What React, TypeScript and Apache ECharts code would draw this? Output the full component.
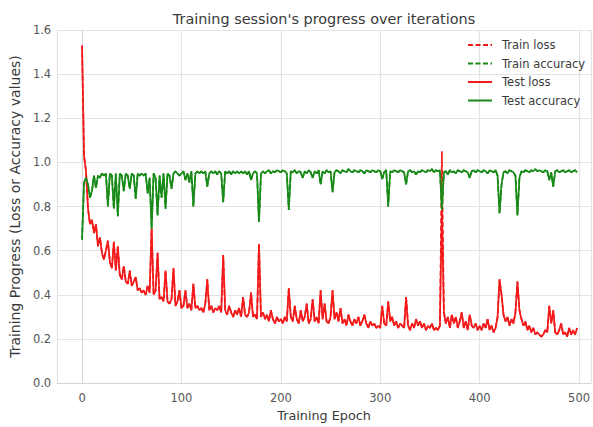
import React, { useEffect, useRef } from "react";
import * as echarts from "echarts";

// epochs sampled every 2 epochs: 0, 2, ..., 498
const epochs: number[] = Array.from({ length: 250 }, (_, i) => i * 2);

const testLoss: number[] = [
  1.53, 1.03, 0.96, 0.79, 0.72, 0.74, 0.68, 0.72, 0.62, 0.66,
  0.59, 0.56, 0.60, 0.645, 0.55, 0.52, 0.64, 0.51, 0.62, 0.49,
  0.47, 0.53, 0.46, 0.45, 0.51, 0.44, 0.46, 0.48, 0.42, 0.43,
  0.41, 0.42, 0.40, 0.44, 0.41, 0.70, 0.40, 0.42, 0.59, 0.38,
  0.39, 0.37, 0.51, 0.37, 0.36, 0.38, 0.52, 0.35, 0.37, 0.42,
  0.34, 0.35, 0.42, 0.34, 0.36, 0.33, 0.45, 0.34, 0.35, 0.33,
  0.34, 0.32, 0.36, 0.47, 0.33, 0.35, 0.32, 0.34, 0.33, 0.35,
  0.32, 0.58, 0.33, 0.31, 0.35, 0.32, 0.30, 0.33, 0.31, 0.34,
  0.30, 0.39, 0.31, 0.30, 0.32, 0.41, 0.30, 0.31, 0.29, 0.63,
  0.30, 0.32, 0.29, 0.31, 0.28, 0.33, 0.29, 0.27, 0.30, 0.28,
  0.29, 0.27, 0.30, 0.28, 0.43, 0.30, 0.28, 0.35, 0.29, 0.27,
  0.33, 0.28, 0.30, 0.36, 0.27, 0.29, 0.38, 0.28, 0.30, 0.27,
  0.42, 0.29, 0.36, 0.28, 0.27, 0.30, 0.42, 0.29, 0.32, 0.28,
  0.34, 0.27, 0.29, 0.26, 0.31, 0.28, 0.26, 0.29, 0.27, 0.30,
  0.26, 0.28, 0.31, 0.27, 0.25, 0.28, 0.26, 0.27, 0.25, 0.26,
  0.25, 0.35, 0.27, 0.26, 0.37, 0.28, 0.30, 0.26, 0.28, 0.25,
  0.27, 0.26, 0.25, 0.39, 0.26, 0.24, 0.27, 0.25, 0.29, 0.26,
  0.28, 0.25, 0.27, 0.24, 0.26, 0.25, 0.27, 0.24, 0.25, 0.24,
  0.26, 0.80, 0.32, 0.27, 0.30, 0.25, 0.31, 0.27, 0.30, 0.25,
  0.28, 0.32, 0.25, 0.28, 0.24, 0.31, 0.26, 0.25, 0.27, 0.24,
  0.26, 0.24, 0.27, 0.25, 0.29, 0.24, 0.26, 0.23, 0.25, 0.30,
  0.47, 0.40, 0.31, 0.28, 0.30, 0.26, 0.29, 0.27, 0.32, 0.46,
  0.33, 0.29, 0.26, 0.28, 0.24, 0.26, 0.23, 0.25, 0.22, 0.23,
  0.22, 0.21, 0.22, 0.24, 0.23, 0.35, 0.27, 0.33, 0.23, 0.22,
  0.24, 0.27, 0.22, 0.23, 0.21, 0.25, 0.22, 0.24, 0.22, 0.25,
];

const trainLoss: number[] = [
  1.53, 1.03, 0.96, 0.79, 0.72, 0.74, 0.68, 0.72, 0.62, 0.66,
  0.59, 0.56, 0.60, 0.645, 0.55, 0.52, 0.64, 0.51, 0.62, 0.49,
  0.47, 0.53, 0.46, 0.45, 0.51, 0.44, 0.46, 0.48, 0.42, 0.43,
  0.41, 0.42, 0.40, 0.44, 0.41, 0.70, 0.40, 0.42, 0.59, 0.38,
  0.39, 0.37, 0.51, 0.37, 0.36, 0.38, 0.52, 0.35, 0.37, 0.42,
  0.34, 0.35, 0.42, 0.34, 0.36, 0.33, 0.45, 0.34, 0.35, 0.33,
  0.34, 0.32, 0.36, 0.47, 0.33, 0.35, 0.32, 0.34, 0.33, 0.35,
  0.32, 0.58, 0.33, 0.31, 0.35, 0.32, 0.30, 0.33, 0.31, 0.34,
  0.30, 0.39, 0.31, 0.30, 0.32, 0.41, 0.30, 0.31, 0.29, 0.63,
  0.30, 0.32, 0.29, 0.31, 0.28, 0.33, 0.29, 0.27, 0.30, 0.28,
  0.29, 0.27, 0.30, 0.28, 0.43, 0.30, 0.28, 0.35, 0.29, 0.27,
  0.33, 0.28, 0.30, 0.36, 0.27, 0.29, 0.38, 0.28, 0.30, 0.27,
  0.42, 0.29, 0.36, 0.28, 0.27, 0.30, 0.42, 0.29, 0.32, 0.28,
  0.34, 0.27, 0.29, 0.26, 0.31, 0.28, 0.26, 0.29, 0.27, 0.30,
  0.26, 0.28, 0.31, 0.27, 0.25, 0.28, 0.26, 0.27, 0.25, 0.26,
  0.25, 0.35, 0.27, 0.26, 0.37, 0.28, 0.30, 0.26, 0.28, 0.25,
  0.27, 0.26, 0.25, 0.39, 0.26, 0.24, 0.27, 0.25, 0.29, 0.26,
  0.28, 0.25, 0.27, 0.24, 0.26, 0.25, 0.27, 0.24, 0.25, 0.24,
  0.26, 1.05, 0.32, 0.27, 0.30, 0.25, 0.31, 0.27, 0.30, 0.25,
  0.28, 0.32, 0.25, 0.28, 0.24, 0.31, 0.26, 0.25, 0.27, 0.24,
  0.26, 0.24, 0.27, 0.25, 0.29, 0.24, 0.26, 0.23, 0.25, 0.30,
  0.47, 0.40, 0.31, 0.28, 0.30, 0.26, 0.29, 0.27, 0.32, 0.46,
  0.33, 0.29, 0.26, 0.28, 0.24, 0.26, 0.23, 0.25, 0.22, 0.23,
  0.22, 0.21, 0.22, 0.24, 0.23, 0.35, 0.27, 0.33, 0.23, 0.22,
  0.24, 0.27, 0.22, 0.23, 0.21, 0.25, 0.22, 0.24, 0.22, 0.25,
];

const testAccuracy: number[] = [
  0.65, 0.91, 0.93, 0.90, 0.84, 0.87, 0.94, 0.885, 0.94, 0.93,
  0.95, 0.94, 0.95, 0.80, 0.95, 0.94, 0.79, 0.95, 0.756, 0.95,
  0.94, 0.87, 0.95, 0.94, 0.88, 0.95, 0.94, 0.836, 0.95, 0.94,
  0.95, 0.94, 0.95, 0.86, 0.93, 0.70, 0.95, 0.93, 0.76, 0.94,
  0.84, 0.95, 0.79, 0.95, 0.94, 0.88, 0.95, 0.96, 0.95, 0.94,
  0.95, 0.96, 0.92, 0.95, 0.91, 0.96, 0.80, 0.95, 0.96, 0.95,
  0.96, 0.95, 0.96, 0.89, 0.95, 0.96, 0.95, 0.96, 0.945, 0.96,
  0.95, 0.82, 0.96, 0.95, 0.96, 0.945, 0.96, 0.95, 0.96, 0.95,
  0.96, 0.95, 0.96, 0.945, 0.96, 0.92, 0.95, 0.96, 0.95, 0.73,
  0.95, 0.96, 0.95, 0.96, 0.965, 0.95, 0.96, 0.955, 0.965, 0.96,
  0.955, 0.965, 0.96, 0.95, 0.785, 0.96, 0.955, 0.965, 0.95, 0.96,
  0.955, 0.93, 0.96, 0.95, 0.965, 0.955, 0.93, 0.96, 0.95, 0.965,
  0.90, 0.96, 0.95, 0.965, 0.955, 0.96, 0.865, 0.955, 0.965, 0.96,
  0.95, 0.965, 0.96, 0.955, 0.97, 0.96, 0.955, 0.965, 0.96, 0.955,
  0.965, 0.96, 0.95, 0.965, 0.96, 0.955, 0.965, 0.96, 0.955, 0.965,
  0.96, 0.925, 0.955, 0.965, 0.80, 0.96, 0.955, 0.965, 0.96, 0.955,
  0.965, 0.96, 0.955, 0.90, 0.96, 0.965, 0.955, 0.96, 0.945, 0.96,
  0.955, 0.965, 0.96, 0.955, 0.965, 0.96, 0.97, 0.955, 0.965, 0.96,
  0.965, 0.785, 0.955, 0.96, 0.945, 0.965, 0.955, 0.96, 0.95, 0.965,
  0.96, 0.955, 0.965, 0.96, 0.955, 0.93, 0.96, 0.965, 0.955, 0.965,
  0.96, 0.955, 0.965, 0.96, 0.95, 0.965, 0.96, 0.955, 0.965, 0.94,
  0.77, 0.90, 0.955, 0.96, 0.95, 0.965, 0.96, 0.955, 0.94, 0.76,
  0.93, 0.96, 0.955, 0.965, 0.96, 0.955, 0.965, 0.96, 0.97, 0.96,
  0.965, 0.96, 0.955, 0.965, 0.96, 0.92, 0.955, 0.89, 0.96, 0.965,
  0.955, 0.96, 0.965, 0.955, 0.96, 0.965, 0.955, 0.96, 0.965, 0.955,
];

const trainAccuracy: number[] = [
  0.65, 0.91, 0.93, 0.90, 0.84, 0.87, 0.94, 0.885, 0.94, 0.93,
  0.95, 0.94, 0.95, 0.80, 0.95, 0.94, 0.79, 0.95, 0.756, 0.95,
  0.94, 0.87, 0.95, 0.94, 0.88, 0.95, 0.94, 0.836, 0.95, 0.94,
  0.95, 0.94, 0.95, 0.86, 0.93, 0.70, 0.95, 0.93, 0.76, 0.94,
  0.84, 0.95, 0.79, 0.95, 0.94, 0.88, 0.95, 0.96, 0.95, 0.94,
  0.95, 0.96, 0.92, 0.95, 0.91, 0.96, 0.80, 0.95, 0.96, 0.95,
  0.96, 0.95, 0.96, 0.89, 0.95, 0.96, 0.95, 0.96, 0.945, 0.96,
  0.95, 0.82, 0.96, 0.95, 0.96, 0.945, 0.96, 0.95, 0.96, 0.95,
  0.96, 0.95, 0.96, 0.945, 0.96, 0.92, 0.95, 0.96, 0.95, 0.73,
  0.95, 0.96, 0.95, 0.96, 0.965, 0.95, 0.96, 0.955, 0.965, 0.96,
  0.955, 0.965, 0.96, 0.95, 0.785, 0.96, 0.955, 0.965, 0.95, 0.96,
  0.955, 0.93, 0.96, 0.95, 0.965, 0.955, 0.93, 0.96, 0.95, 0.965,
  0.90, 0.96, 0.95, 0.965, 0.955, 0.96, 0.865, 0.955, 0.965, 0.96,
  0.95, 0.965, 0.96, 0.955, 0.97, 0.96, 0.955, 0.965, 0.96, 0.955,
  0.965, 0.96, 0.95, 0.965, 0.96, 0.955, 0.965, 0.96, 0.955, 0.965,
  0.96, 0.925, 0.955, 0.965, 0.80, 0.96, 0.955, 0.965, 0.96, 0.955,
  0.965, 0.96, 0.955, 0.90, 0.96, 0.965, 0.955, 0.96, 0.945, 0.96,
  0.955, 0.965, 0.96, 0.955, 0.965, 0.96, 0.97, 0.955, 0.965, 0.96,
  0.965, 0.785, 0.955, 0.96, 0.945, 0.965, 0.955, 0.96, 0.95, 0.965,
  0.96, 0.955, 0.965, 0.96, 0.955, 0.93, 0.96, 0.965, 0.955, 0.965,
  0.96, 0.955, 0.965, 0.96, 0.95, 0.965, 0.96, 0.955, 0.965, 0.94,
  0.77, 0.90, 0.955, 0.96, 0.95, 0.965, 0.96, 0.955, 0.94, 0.76,
  0.93, 0.96, 0.955, 0.965, 0.96, 0.955, 0.965, 0.96, 0.97, 0.96,
  0.965, 0.96, 0.955, 0.965, 0.96, 0.92, 0.955, 0.89, 0.96, 0.965,
  0.955, 0.96, 0.965, 0.955, 0.96, 0.965, 0.955, 0.96, 0.965, 0.955,
];

const seriesNames = ["Train loss", "Train accuracy", "Test loss", "Test accuracy"];

const FONT = "DejaVu Sans";
const RED = "#f21a1a";
const GREEN = "#188a18";

function pairs(values: number[]): [number, number][] {
  return epochs.map((e, i) => [e, values[i]]);
}

export default function App() {
  const ref = useRef<HTMLDivElement>(null);

  useEffect(() => {
    document.body.style.margin = "0";
    if (!ref.current) return;
    const chart = echarts.init(ref.current, undefined, { renderer: "svg" });

    const line = (name: string, values: number[], color: string, dashed: boolean, z: number) => ({
      name,
      type: "line",
      data: pairs(values),
      showSymbol: false,
      symbol: "none",
      z,
      lineStyle: { color, width: 1.7, type: dashed ? [5, 2.5] : "solid" },
      itemStyle: { color },
    });

    chart.setOption({
      animation: false,
      backgroundColor: "#ffffff",
      title: {
        text: "Training session's progress over iterations",
        left: 324,
        top: 12,
        textAlign: "center",
        padding: 0,
        textStyle: { fontFamily: FONT, fontSize: 14.4, fontWeight: "normal", color: "#3a3a3a" },
      },
      legend: {
        orient: "vertical",
        left: 467,
        top: 38,
        itemWidth: 24,
        itemHeight: 10,
        itemGap: 4.5,
        padding: 0,
        data: seriesNames,
        itemStyle: { opacity: 0, borderWidth: 0, color: "transparent" },
        textStyle: { fontFamily: FONT, fontSize: 11.5, color: "#3a3a3a", lineHeight: 14, padding: [0, 0, 0, 5] },
      },
      grid: { left: 55, right: 0, top: 30, bottom: 34, containLabel: false },
      xAxis: {
        type: "value",
        min: -25,
        max: 512,
        splitNumber: 5,
        name: "Training Epoch",
        nameLocation: "middle",
        nameGap: 25,
        nameTextStyle: { fontFamily: FONT, fontSize: 12.8, color: "#3a3a3a" },
        axisLine: { show: true, lineStyle: { color: "#d6d6d6", width: 1 } },
        axisTick: { show: false },
        axisLabel: {
          fontFamily: FONT,
          fontSize: 11.5,
          color: "#555555",
          margin: 9,
          showMinLabel: false,
          showMaxLabel: false,
          formatter: (v: number) => (v % 100 === 0 ? String(v) : ""),
        },
        splitLine: { show: true, lineStyle: { color: "#e3e3e3", width: 1.2 } },
      },
      yAxis: {
        type: "value",
        min: 0,
        max: 1.6,
        interval: 0.2,
        name: "Training Progress (Loss or Accuracy values)",
        nameLocation: "middle",
        nameGap: 34,
        nameTextStyle: { fontFamily: FONT, fontSize: 14, color: "#3a3a3a" },
        axisLine: { show: true, lineStyle: { color: "#d6d6d6", width: 1 } },
        axisTick: { show: false },
        axisLabel: {
          fontFamily: FONT,
          fontSize: 11.5,
          color: "#555555",
          margin: 6,
          formatter: (v: number) => v.toFixed(1),
        },
        splitLine: { show: true, lineStyle: { color: "#e3e3e3", width: 1.2 } },
      },
      series: [
        line(seriesNames[0], trainLoss, RED, true, 1),
        line(seriesNames[1], trainAccuracy, GREEN, true, 2),
        line(seriesNames[2], testLoss, RED, false, 3),
        line(seriesNames[3], testAccuracy, GREEN, false, 4),
      ],
    });

    return () => chart.dispose();
  }, []);

  return <div ref={ref} style={{ width: 593, height: 427 }} />;
}
